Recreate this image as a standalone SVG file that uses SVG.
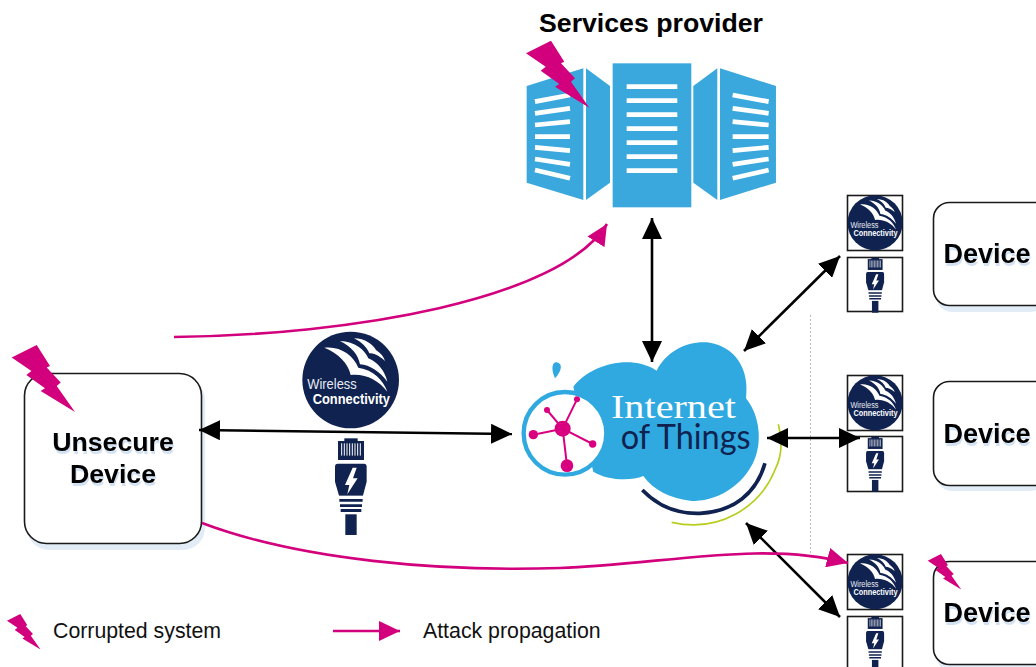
<svg xmlns="http://www.w3.org/2000/svg" width="1036" height="667" viewBox="0 0 1036 667">
<style>
text{font-family:"Liberation Sans",Arial,sans-serif}
.srv{fill:#3aa8dc}
.stripe{stroke:#fff;stroke-width:14;fill:none}
.box{fill:#fff;stroke:#1a1a1a;stroke-width:1.6}
.boxsh{fill:#e2ecf7}
.lbl{font-weight:700;text-anchor:middle;fill:#000;filter:drop-shadow(1.5px 3px 0.5px #d3e2f3)}
.iconbox{fill:#fff;stroke:#1a1a1a;stroke-width:1.6}
.dbl{fill:none;stroke:#000;stroke-width:2.6;marker-start:url(#blk);marker-end:url(#blk)}
.atk{fill:none;stroke:#d2007d;stroke-width:2.6}
.leg{font-size:21.300px;fill:#111}
.wl{fill:#e8ecf4;font-size:46px}
.cn{fill:#fff;font-size:46px;font-weight:700}
</style>
<defs>
<marker id="blk" markerUnits="userSpaceOnUse" markerWidth="22" markerHeight="20" viewBox="0 0 22 20" refX="21" refY="10" orient="auto-start-reverse"><path d="M0,0L21,10L0,20Z" fill="#000"/></marker>
<marker id="pnk" markerUnits="userSpaceOnUse" markerWidth="22" markerHeight="20" viewBox="0 0 22 20" refX="21" refY="10" orient="auto"><path d="M0,0L21,10L0,20Z" fill="#d2007d"/></marker>
<path id="bolt" fill="#d2007d" d="M0,12.6L25,0L38.3,21L35,22.6L49,37.6L45,41L63.3,67L29,46L33.3,43.3L14.7,30L19.7,26Z"/>
<g id="wifi">
<circle cx="182" cy="165" r="145" fill="#10224f"/>
<path fill="#fff" d="M103,68C150,62 190,90 205,128C250,135 280,165 292,200C265,165 225,145 182,150C175,115 145,85 103,68Z"/>
<path fill="#fff" d="M150,48C195,50 225,75 235,100C265,112 285,140 292,170C270,140 240,120 210,118C205,90 185,65 150,48Z"/>
<path fill="#fff" d="M192,40C225,40 250,60 258,75C272,85 282,95 285,108C265,90 250,85 238,85C230,65 215,52 192,40Z"/>
</g>
<g id="rj">
<rect x="163" y="340" width="40" height="12" fill="#10224f"/>
<rect x="144" y="348" width="78" height="57" fill="#10224f"/>
<path stroke="#fff" stroke-width="3" d="M155,355V392M163,355V392M171,355V392M179,355V392M187,355V392M195,355V392M203,355V392M211,355V392"/>
<path fill="#10224f" d="M143,416H222Q230,416 230,426V470L218,515H148L135,470V426Q135,416 143,416Z"/>
<path fill="#fff" d="M188,428L165,480H178L172,508L203,460H189L200,428Z"/>
<path fill="#fff" d="M145,512H221V519H145Z"/>
<path fill="#10224f" d="M148,522H218L218,530H148ZM150,538H216V546H150ZM152,552H214V561H152Z"/>
<rect x="166" y="568" width="34" height="62" fill="#10224f"/>
</g>
</defs>

<g id="services-provider">
<text x="651" y="32" text-anchor="middle" font-size="26.700" font-weight="700" fill="#000">Services provider</text>
<g transform="translate(500,30) scale(0.3333)">
<rect class="srv" x="338" y="100" width="236" height="432"/>
<path class="srv" d="M80,168L250,115V510L80,458Z"/>
<path class="srv" d="M258,115L330,168V458L258,510Z"/>
<path class="srv" d="M652,115L580,168V458L652,510Z"/>
<path class="srv" d="M660,115L828,168V458L660,510Z"/>
<path class="stripe" d="M380,170H532M380,212H532M380,254H532M380,296H532M380,338H532M380,380H532M380,422H532"/>
<path class="stripe" d="M105,215L210,195M105,250L210,235M105,285L210,275M105,320H210M105,352L210,362M105,387L210,403M105,420L210,445"/>
<path class="stripe" d="M806,215L698,195M806,250L698,235M806,285L698,275M806,320H698M806,352L698,362M806,387L698,403M806,420L698,445"/>
</g>
<use href="#bolt" x="526" y="40.700"/>
</g>

<g id="unsecure-device">
<rect class="boxsh" x="27" y="378" width="178" height="172" rx="22"/>
<rect class="box" x="24.500" y="373.500" width="177" height="170" rx="22"/>
<text class="lbl" font-size="26.700" x="113" y="451">Unsecure</text>
<text class="lbl" font-size="26.700" x="113" y="483">Device</text>
<use href="#bolt" x="11.700" y="345"/>
</g>

<g id="link-icons">
<g transform="translate(290,325) scale(0.3333)">
<use href="#wifi"/>
<text class="wl" x="52" y="193" textLength="148" lengthAdjust="spacingAndGlyphs">Wireless</text>
<text class="cn" x="68" y="236" textLength="232" lengthAdjust="spacingAndGlyphs">Connectivity</text>
<use href="#rj"/>
</g>
</g>

<g id="iot-cloud" transform="translate(500,330) scale(0.3333)">
<path fill="#2fa9e0" d="M220,170C270,105 390,70 470,122C500,60 570,30 630,38C700,50 750,110 738,205C775,250 785,320 770,370C745,460 650,520 570,512C510,505 460,480 430,438C390,455 320,450 280,425Z"/>
<circle cx="195" cy="310" r="124" fill="#fff" stroke="#2fa9e0" stroke-width="13"/>
<path fill="#2fa9e0" d="M165,145C150,110 160,95 170,97C190,100 185,125 165,145Z"/>
<path stroke="#d9007f" stroke-width="6" fill="none" d="M188,296L100,314M188,296L141,240M188,296L231,208M188,296L278,342M188,296L201,407"/>
<g fill="#d9007f"><circle cx="188" cy="296" r="24"/><circle cx="100" cy="314" r="14"/><circle cx="141" cy="240" r="9"/><circle cx="231" cy="208" r="9"/><circle cx="278" cy="342" r="11"/><circle cx="201" cy="407" r="19"/></g>
<text x="333" y="264" font-size="104" fill="#fff" textLength="375" lengthAdjust="spacingAndGlyphs" style="font-family:'Liberation Serif',serif">Internet</text>
<text x="362" y="356" font-size="104" fill="#10224f" textLength="390" lengthAdjust="spacingAndGlyphs" style="font-family:Lato,'Liberation Sans',sans-serif;font-weight:400">of Things</text>
<path fill="none" stroke="#10224f" stroke-width="11" d="M427,480C480,535 540,552 600,550C700,545 770,490 795,400"/>
<path fill="none" stroke="#b9cd1e" stroke-width="5" d="M515,577C660,610 780,530 825,420C850,370 845,320 835,283"/>
</g>

<g id="device-1">
<rect class="boxsh" x="936" y="207" width="110" height="105" rx="16"/>
<rect class="box" x="933.500" y="202.500" width="120" height="103" rx="16"/>
<text class="lbl" font-size="27" x="987" y="263">Device</text>
<rect class="iconbox" x="847.500" y="195.500" width="55" height="55"/>
<g transform="translate(840.500,191.500) scale(0.19)"><use href="#wifi"/><text class="wl" x="52" y="193" textLength="148" lengthAdjust="spacingAndGlyphs">Wireless</text><text class="cn" x="68" y="236" textLength="232" lengthAdjust="spacingAndGlyphs">Connectivity</text></g>
<rect class="iconbox" x="847.500" y="257.500" width="55" height="54"/>
<g transform="translate(840.400,193) scale(0.19)"><use href="#rj"/></g>
</g>

<g id="device-2">
<rect class="boxsh" x="936" y="386" width="110" height="105" rx="16"/>
<rect class="box" x="933.500" y="381.500" width="120" height="104" rx="16"/>
<text class="lbl" font-size="27" x="987" y="443">Device</text>
<rect class="iconbox" x="847.500" y="375.500" width="55" height="55"/>
<g transform="translate(840.500,371.500) scale(0.19)"><use href="#wifi"/><text class="wl" x="52" y="193" textLength="148" lengthAdjust="spacingAndGlyphs">Wireless</text><text class="cn" x="68" y="236" textLength="232" lengthAdjust="spacingAndGlyphs">Connectivity</text></g>
<rect class="iconbox" x="847.500" y="436.500" width="55" height="55"/>
<g transform="translate(840.400,372) scale(0.19)"><use href="#rj"/></g>
</g>

<g id="device-3">
<rect class="boxsh" x="936" y="566" width="110" height="105" rx="16"/>
<rect class="box" x="933.500" y="561.500" width="120" height="103" rx="16"/>
<text class="lbl" font-size="27" x="987" y="622">Device</text>
<use href="#bolt" transform="translate(927.700,554) scale(0.53)"/>
<rect class="iconbox" x="847.500" y="554.500" width="55" height="55"/>
<g transform="translate(840.500,550.500) scale(0.19)"><use href="#wifi"/><text class="wl" x="52" y="193" textLength="148" lengthAdjust="spacingAndGlyphs">Wireless</text><text class="cn" x="68" y="236" textLength="232" lengthAdjust="spacingAndGlyphs">Connectivity</text></g>
<rect class="iconbox" x="847.500" y="616.500" width="55" height="54"/>
<g transform="translate(840.400,552) scale(0.19)"><use href="#rj"/></g>
</g>

<g id="connectors">
<path d="M810.500,315V555" fill="none" stroke="#bbb" stroke-width="1" stroke-dasharray="2 2"/>
<path class="dbl" d="M652,218V362"/>
<path class="dbl" d="M199,430L512,434"/>
<path class="dbl" d="M840,256L744,351"/>
<path class="dbl" d="M767,438H860"/>
<path class="dbl" d="M840,617L746,523"/>
<path class="atk" marker-end="url(#pnk)" d="M174,337C350,335 560,300 607,224"/>
<path class="atk" marker-end="url(#pnk)" d="M202,523C300,560 440,572 560,568C660,565 760,540 848,563"/>
</g>

<g id="legend">
<use href="#bolt" transform="translate(7,614) scale(0.53)"/>
<text class="leg" x="53" y="638">Corrupted system</text>
<path class="atk" marker-end="url(#pnk)" d="M333,631H400"/>
<text class="leg" x="423" y="638">Attack propagation</text>
</g>
</svg>
